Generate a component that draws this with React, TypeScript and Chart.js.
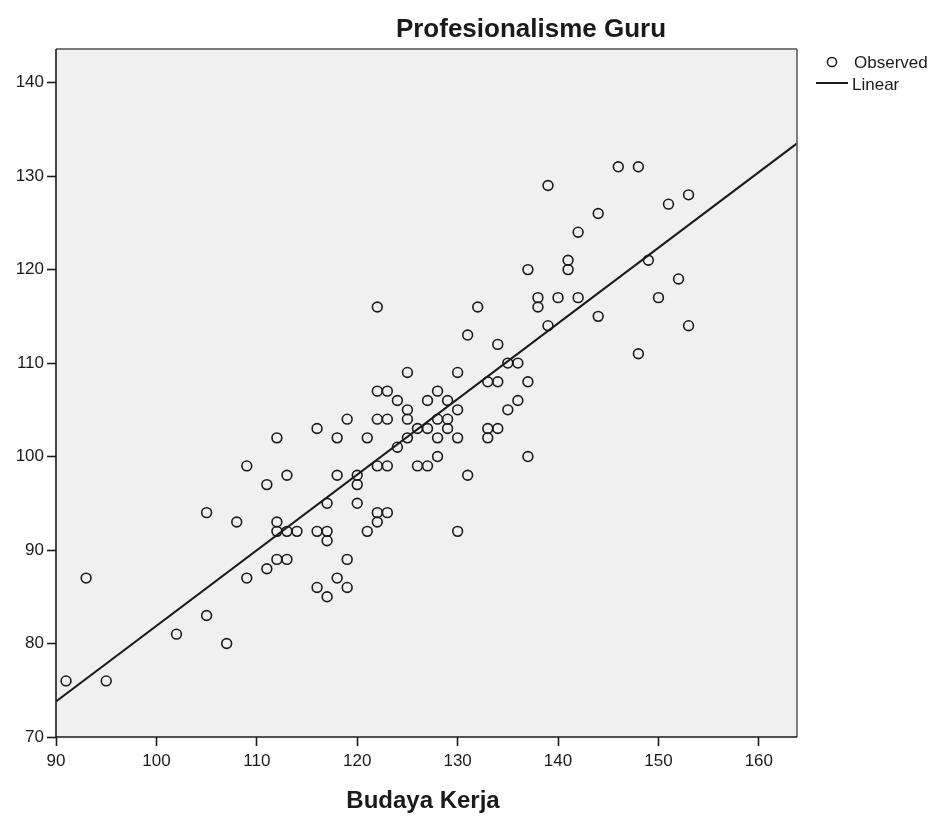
import React, { useEffect, useRef } from "react";
import { Chart, registerables } from "chart.js";

Chart.register(...registerables);

// Budaya Kerja (x) and Profesionalisme Guru (y) — observed values
const budayaKerja = [
  91, 93, 95, 102, 105, 105, 107, 108, 109, 109, 111, 111, 112, 112, 112, 112,
  113, 113, 113, 114, 116, 116, 116, 117, 117, 117, 117, 118, 118, 118, 119, 119,
  119, 120, 120, 120, 121, 121, 122, 122, 122, 122, 122, 122, 123, 123, 123, 123,
  124, 124, 125, 125, 125, 125, 126, 126, 127, 127, 127, 128, 128, 128, 128, 129,
  129, 129, 130, 130, 130, 130, 131, 131, 132, 133, 133, 133, 134, 134, 134, 135,
  135, 136, 136, 137, 137, 137, 138, 138, 139, 139, 140, 141, 141, 142, 142, 144,
  144, 146, 148, 148, 149, 150, 151, 152, 153, 153,
];
const profesionalisme = [
  76, 87, 76, 81, 94, 83, 80, 93, 99, 87, 97, 88, 102, 93, 92, 89,
  98, 92, 89, 92, 103, 92, 86, 95, 92, 91, 85, 102, 98, 87, 104, 89,
  86, 98, 97, 95, 102, 92, 116, 107, 104, 99, 94, 93, 107, 104, 99, 94,
  106, 101, 109, 105, 104, 102, 103, 99, 106, 103, 99, 107, 104, 102, 100, 106,
  104, 103, 109, 105, 102, 92, 113, 98, 116, 108, 103, 102, 112, 108, 103, 110,
  105, 110, 106, 120, 108, 100, 117, 116, 129, 114, 117, 121, 120, 124, 117, 126,
  115, 131, 131, 111, 121, 117, 127, 119, 128, 114,
];

// Linear fit line
const linearX = [90, 163.8];
const linearY = [73.8, 133.5];

// Axes
const xTicks = [90, 100, 110, 120, 130, 140, 150, 160];
const yTicks = [70, 80, 90, 100, 110, 120, 130, 140];
const xRange = [90, 163.8];
const yRange = [70, 143.6];

const chartTitle = "Profesionalisme Guru";
const xAxisTitle = "Budaya Kerja";
const legendLabels = ["Observed", "Linear"];

const FONT = "'Liberation Sans', Arial, sans-serif";
const INK = "#1a1a1a";

const decorPlugin = {
  id: "spssDecor",
  beforeDraw(chart: any) {
    const { ctx, chartArea: a } = chart;
    ctx.save();
    ctx.fillStyle = "#f0f0f0";
    ctx.fillRect(a.left, a.top, a.right - a.left, a.bottom - a.top);
    ctx.restore();
  },
  afterDraw(chart: any) {
    const { ctx, chartArea: a } = chart;
    ctx.save();
    // top border (gray)
    ctx.strokeStyle = "#7a7a7a";
    ctx.lineWidth = 2;
    ctx.beginPath();
    ctx.moveTo(a.left, a.top);
    ctx.lineTo(a.right, a.top);
    ctx.stroke();
    // right border
    ctx.strokeStyle = "#555";
    ctx.lineWidth = 1.5;
    ctx.beginPath();
    ctx.moveTo(a.right, a.top);
    ctx.lineTo(a.right, a.bottom);
    ctx.stroke();
    // left + bottom axis lines
    ctx.strokeStyle = INK;
    ctx.lineWidth = 1.6;
    ctx.beginPath();
    ctx.moveTo(a.left, a.top);
    ctx.lineTo(a.left, a.bottom);
    ctx.lineTo(a.right, a.bottom);
    ctx.stroke();

    // title
    ctx.fillStyle = INK;
    ctx.textAlign = "center";
    ctx.textBaseline = "middle";
    ctx.font = `bold 26px ${FONT}`;
    ctx.fillText(chartTitle, 531, 30);
    // x axis title
    ctx.font = `bold 24px ${FONT}`;
    ctx.fillText(xAxisTitle, 423, 801);

    // legend
    ctx.textAlign = "left";
    ctx.font = `17px ${FONT}`;
    ctx.strokeStyle = INK;
    ctx.lineWidth = 1.5;
    ctx.beginPath();
    ctx.arc(832, 62, 4.6, 0, Math.PI * 2);
    ctx.stroke();
    ctx.fillText(legendLabels[0], 854, 63);
    ctx.lineWidth = 2;
    ctx.beginPath();
    ctx.moveTo(816, 83);
    ctx.lineTo(848, 83);
    ctx.stroke();
    ctx.fillText(legendLabels[1], 852, 85);
    ctx.restore();
  },
};

export default function App() {
  const ref = useRef<HTMLCanvasElement | null>(null);

  useEffect(() => {
    if (!ref.current) return;
    const points = budayaKerja.map((x, i) => ({ x, y: profesionalisme[i] }));
    const line = linearX.map((x, i) => ({ x, y: linearY[i] }));
    const chart = new Chart(ref.current, {
      type: "scatter",
      data: {
        datasets: [
          {
            label: legendLabels[0],
            data: points,
            pointStyle: "circle",
            pointRadius: 4.9,
            pointBorderWidth: 1.6,
            pointBorderColor: INK,
            pointBackgroundColor: "rgba(0,0,0,0)",
            showLine: false,
            order: 2,
          },
          {
            label: legendLabels[1],
            type: "line",
            data: line,
            borderColor: INK,
            borderWidth: 2,
            pointRadius: 0,
            fill: false,
            tension: 0,
            order: 1,
          },
        ],
      },
      options: {
        responsive: false,
        animation: false,
        devicePixelRatio: 1,
        layout: { padding: { left: 0, right: 142, top: 49, bottom: 0 } },
        plugins: {
          legend: { display: false },
          title: { display: false },
          tooltip: { enabled: false },
        },
        scales: {
          x: {
            type: "linear",
            min: xRange[0],
            max: xRange[1],
            afterFit(scale: any) {
              scale.height = 79;
            },
            afterBuildTicks(scale: any) {
              scale.ticks = xTicks.map((v) => ({ value: v }));
            },
            ticks: {
              color: INK,
              font: { family: FONT, size: 17 },
              padding: 5,
              maxRotation: 0,
              autoSkip: false,
            },
            grid: {
              display: true,
              drawOnChartArea: false,
              drawTicks: true,
              tickLength: 9,
              tickColor: INK,
              tickWidth: 1.6,
            },
            border: { display: false },
          },
          y: {
            type: "linear",
            min: yRange[0],
            max: yRange[1],
            afterFit(scale: any) {
              scale.width = 56;
            },
            afterBuildTicks(scale: any) {
              scale.ticks = yTicks.map((v) => ({ value: v }));
            },
            ticks: {
              color: INK,
              font: { family: FONT, size: 17 },
              padding: 3,
              autoSkip: false,
            },
            grid: {
              display: true,
              drawOnChartArea: false,
              drawTicks: true,
              tickLength: 9,
              tickColor: INK,
              tickWidth: 1.6,
            },
            border: { display: false },
          },
        },
      },
      plugins: [decorPlugin],
    });
    return () => chart.destroy();
  }, []);

  return (
    <div style={{ position: "absolute", left: 0, top: 0, width: 939, height: 816, background: "#fff" }}>
      <canvas ref={ref} width={939} height={816} style={{ width: 939, height: 816, display: "block" }} />
    </div>
  );
}
